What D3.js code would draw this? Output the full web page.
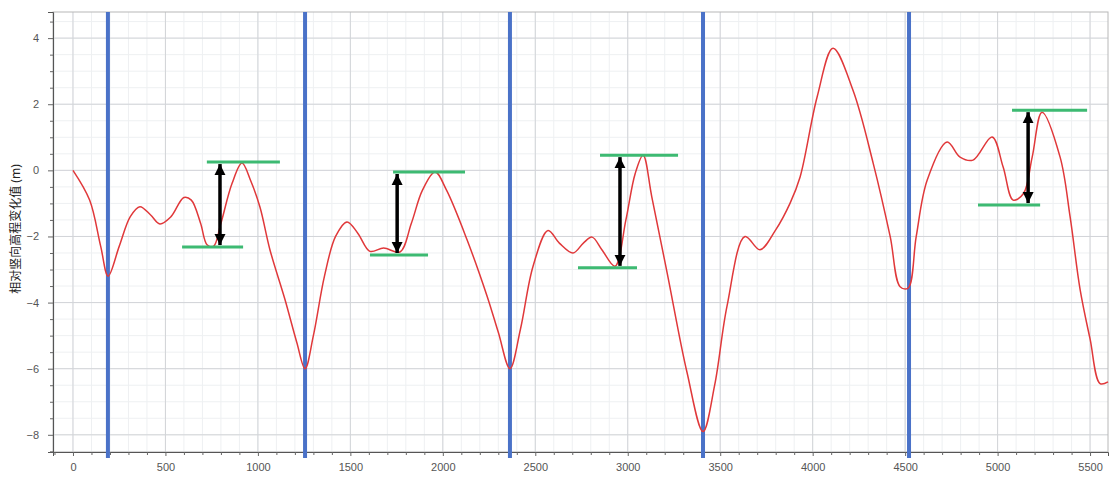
<!DOCTYPE html>
<html>
<head>
<meta charset="utf-8">
<script src="https://cdn.jsdelivr.net/npm/d3@7"></script>
<style>
  body { margin: 0; background: #fff; }
  svg { display: block; font-family: "Noto Sans", "Noto Sans CJK SC", sans-serif; }
  .tick text { fill: #555; font-size: 11px; }
</style>
</head>
<body>
<div id="chart"></div>
<script>
// curve samples (distance, relative change in m)
const distance = [0, 90, 150, 190, 250, 310, 362, 420, 470, 530, 600, 640, 690, 725, 760, 800, 860, 914, 960, 1011,
  1065, 1146, 1210, 1255, 1300, 1360, 1420, 1482, 1540, 1606, 1680, 1768, 1830, 1890, 1958, 2020, 2131, 2239, 2300, 2363,
  2420, 2488, 2569, 2630, 2704, 2760, 2807, 2860, 2931, 2990, 3040, 3083, 3130, 3213, 3320, 3407, 3470, 3537, 3634, 3715,
  3800, 3878, 3932, 4024, 4110, 4218, 4327, 4419, 4473, 4516, 4560, 4619, 4727, 4797, 4867, 4970, 5030, 5084, 5140, 5187,
  5240, 5338, 5392, 5446, 5500, 5554, 5597];
const change = [0, -0.9, -2.3, -3.2, -2.3, -1.4, -1.1, -1.35, -1.62, -1.4, -0.82, -0.9, -1.6, -2.25, -2.3, -1.6, -0.4, 0.22, -0.3, -1.11,
  -2.4, -3.9, -5.2, -6.0, -5.0, -3.2, -2.0, -1.56, -1.9, -2.45, -2.35, -2.47, -1.6, -0.6, -0.05, -0.6, -2.1, -3.8, -4.9, -6.0,
  -4.8, -2.9, -1.82, -2.2, -2.5, -2.2, -2.02, -2.4, -2.9, -1.5, -0.1, 0.46, -0.8, -3.1, -6.1, -7.9, -6.5, -4.1, -2.0, -2.4,
  -1.8, -0.99, -0.2, 2.22, 3.69, 2.42, 0.22, -2.0, -3.52, -3.56, -2.0, -0.3, 0.86, 0.4, 0.31, 1.01, 0.1, -0.9, -0.7, 0.4,
  1.76, 0.4, -1.4, -3.6, -5.1, -6.45, -6.4];

// vertical separators
const blueX = [189, 1255, 2363, 3407, 4521];

// green reference levels: [x start, x end, level]
const greenTop = [[724, 1119, 0.25], [1731, 2120, -0.05], [2850, 3272, 0.46], [5078, 5484, 1.82]];
const greenBottom = [[590, 920, -2.32], [1606, 1920, -2.56], [2731, 3050, -2.95], [4894, 5230, -1.05]];
const arrowX = [795, 1753, 2958, 5165];

const xTicks = [0, 500, 1000, 1500, 2000, 2500, 3000, 3500, 4000, 4500, 5000, 5500];
const yTicks = [-8, -6, -4, -2, 0, 2, 4];
const yLabel = "相对竖向高程变化值 (m)";

const W = 1112, H = 483;
const margin = { top: 12, right: 4, bottom: 31, left: 53 };

const svg = d3.select("#chart").append("svg").attr("width", W).attr("height", H);

const x = d3.scaleLinear().domain([-108, 5597]).range([margin.left, W - margin.right]);
const y = d3.scaleLinear().domain([-8.52, 4.79]).range([H - margin.bottom, margin.top]);

// grid, minor then major
const minorX = d3.range(-100, 5600, 100);
const minorY = d3.range(-8.5, 4.8, 0.5);
const grid = svg.append("g");
grid.selectAll(".mx").data(minorX).enter().append("line")
  .attr("x1", d => x(d)).attr("x2", d => x(d))
  .attr("y1", y.range()[0]).attr("y2", y.range()[1])
  .attr("stroke", "#eef0f2");
grid.selectAll(".my").data(minorY).enter().append("line")
  .attr("y1", d => y(d)).attr("y2", d => y(d))
  .attr("x1", x.range()[0]).attr("x2", x.range()[1])
  .attr("stroke", "#eef0f2");
grid.selectAll(".gx").data(xTicks).enter().append("line")
  .attr("x1", d => x(d)).attr("x2", d => x(d))
  .attr("y1", y.range()[0]).attr("y2", y.range()[1])
  .attr("stroke", "#d2d4d8");
grid.selectAll(".gy").data(yTicks).enter().append("line")
  .attr("y1", d => y(d)).attr("y2", d => y(d))
  .attr("x1", x.range()[0]).attr("x2", x.range()[1])
  .attr("stroke", "#d2d4d8");

// frame
svg.append("rect")
  .attr("x", margin.left).attr("y", margin.top)
  .attr("width", W - margin.left - margin.right)
  .attr("height", H - margin.top - margin.bottom)
  .attr("fill", "none").attr("stroke", "#b8b8b8");

// axes
svg.append("g").attr("transform", `translate(0,${H - margin.bottom})`)
  .call(d3.axisBottom(x).tickValues(xTicks).tickSize(4).tickPadding(7).tickFormat(d3.format("d")));
svg.append("g").attr("transform", `translate(0,${H - margin.bottom})`)
  .call(d3.axisBottom(x).tickValues(minorX.filter(d => d % 500 !== 0)).tickSize(3).tickFormat(""))
  .call(g => g.select(".domain").remove());
svg.append("g").attr("transform", `translate(${margin.left},0)`)
  .call(d3.axisLeft(y).tickValues(yTicks).tickSize(5).tickPadding(9).tickFormat(d3.format("d")));
svg.append("g").attr("transform", `translate(${margin.left},0)`)
  .call(d3.axisLeft(y).tickValues(minorY.filter(d => d % 2 !== 0)).tickSize(3).tickFormat(""))
  .call(g => g.select(".domain").remove());
svg.selectAll(".domain").attr("stroke", "#555");
svg.selectAll(".tick line").attr("stroke", "#666");

svg.append("text")
  .attr("transform", `translate(20,229) rotate(-90)`)
  .attr("text-anchor", "middle")
  .attr("font-size", 12)
  .attr("fill", "#222")
  .text(yLabel);

// blue separators
svg.append("g").selectAll("line").data(blueX).enter().append("line")
  .attr("x1", d => x(d)).attr("x2", d => x(d))
  .attr("y1", margin.top).attr("y2", H - margin.bottom + 6)
  .attr("stroke", "#4a72c8").attr("stroke-width", 4);

// red curve
const pts = distance.map((d, i) => [d, change[i]]);
const line = d3.line().x(d => x(d[0])).y(d => y(d[1])).curve(d3.curveCatmullRom.alpha(0.5));
svg.append("path").datum(pts)
  .attr("d", line)
  .attr("fill", "none")
  .attr("stroke", "#e0383a")
  .attr("stroke-width", 1.5);

// green levels
const levels = greenTop.concat(greenBottom);
svg.append("g").selectAll("line").data(levels).enter().append("line")
  .attr("x1", d => x(d[0])).attr("x2", d => x(d[1]))
  .attr("y1", d => y(d[2])).attr("y2", d => y(d[2]))
  .attr("stroke", "#3dba72").attr("stroke-width", 3);

// double-headed arrows between the levels
const defs = svg.append("defs");
defs.append("marker")
  .attr("id", "head")
  .attr("viewBox", "0 0 10 10")
  .attr("refX", 10).attr("refY", 5)
  .attr("markerUnits", "userSpaceOnUse")
  .attr("markerWidth", 11).attr("markerHeight", 12)
  .attr("orient", "auto-start-reverse")
  .append("path").attr("d", "M0,0L10,5L0,10Z").attr("fill", "#000");

svg.append("g").selectAll("line").data(arrowX).enter().append("line")
  .attr("x1", d => x(d)).attr("x2", d => x(d))
  .attr("y1", (d, i) => y(greenTop[i][2]) + 2)
  .attr("y2", (d, i) => y(greenBottom[i][2]) - 2)
  .attr("stroke", "#000").attr("stroke-width", 3.5)
  .attr("marker-start", "url(#head)")
  .attr("marker-end", "url(#head)");
</script>
</body>
</html>
